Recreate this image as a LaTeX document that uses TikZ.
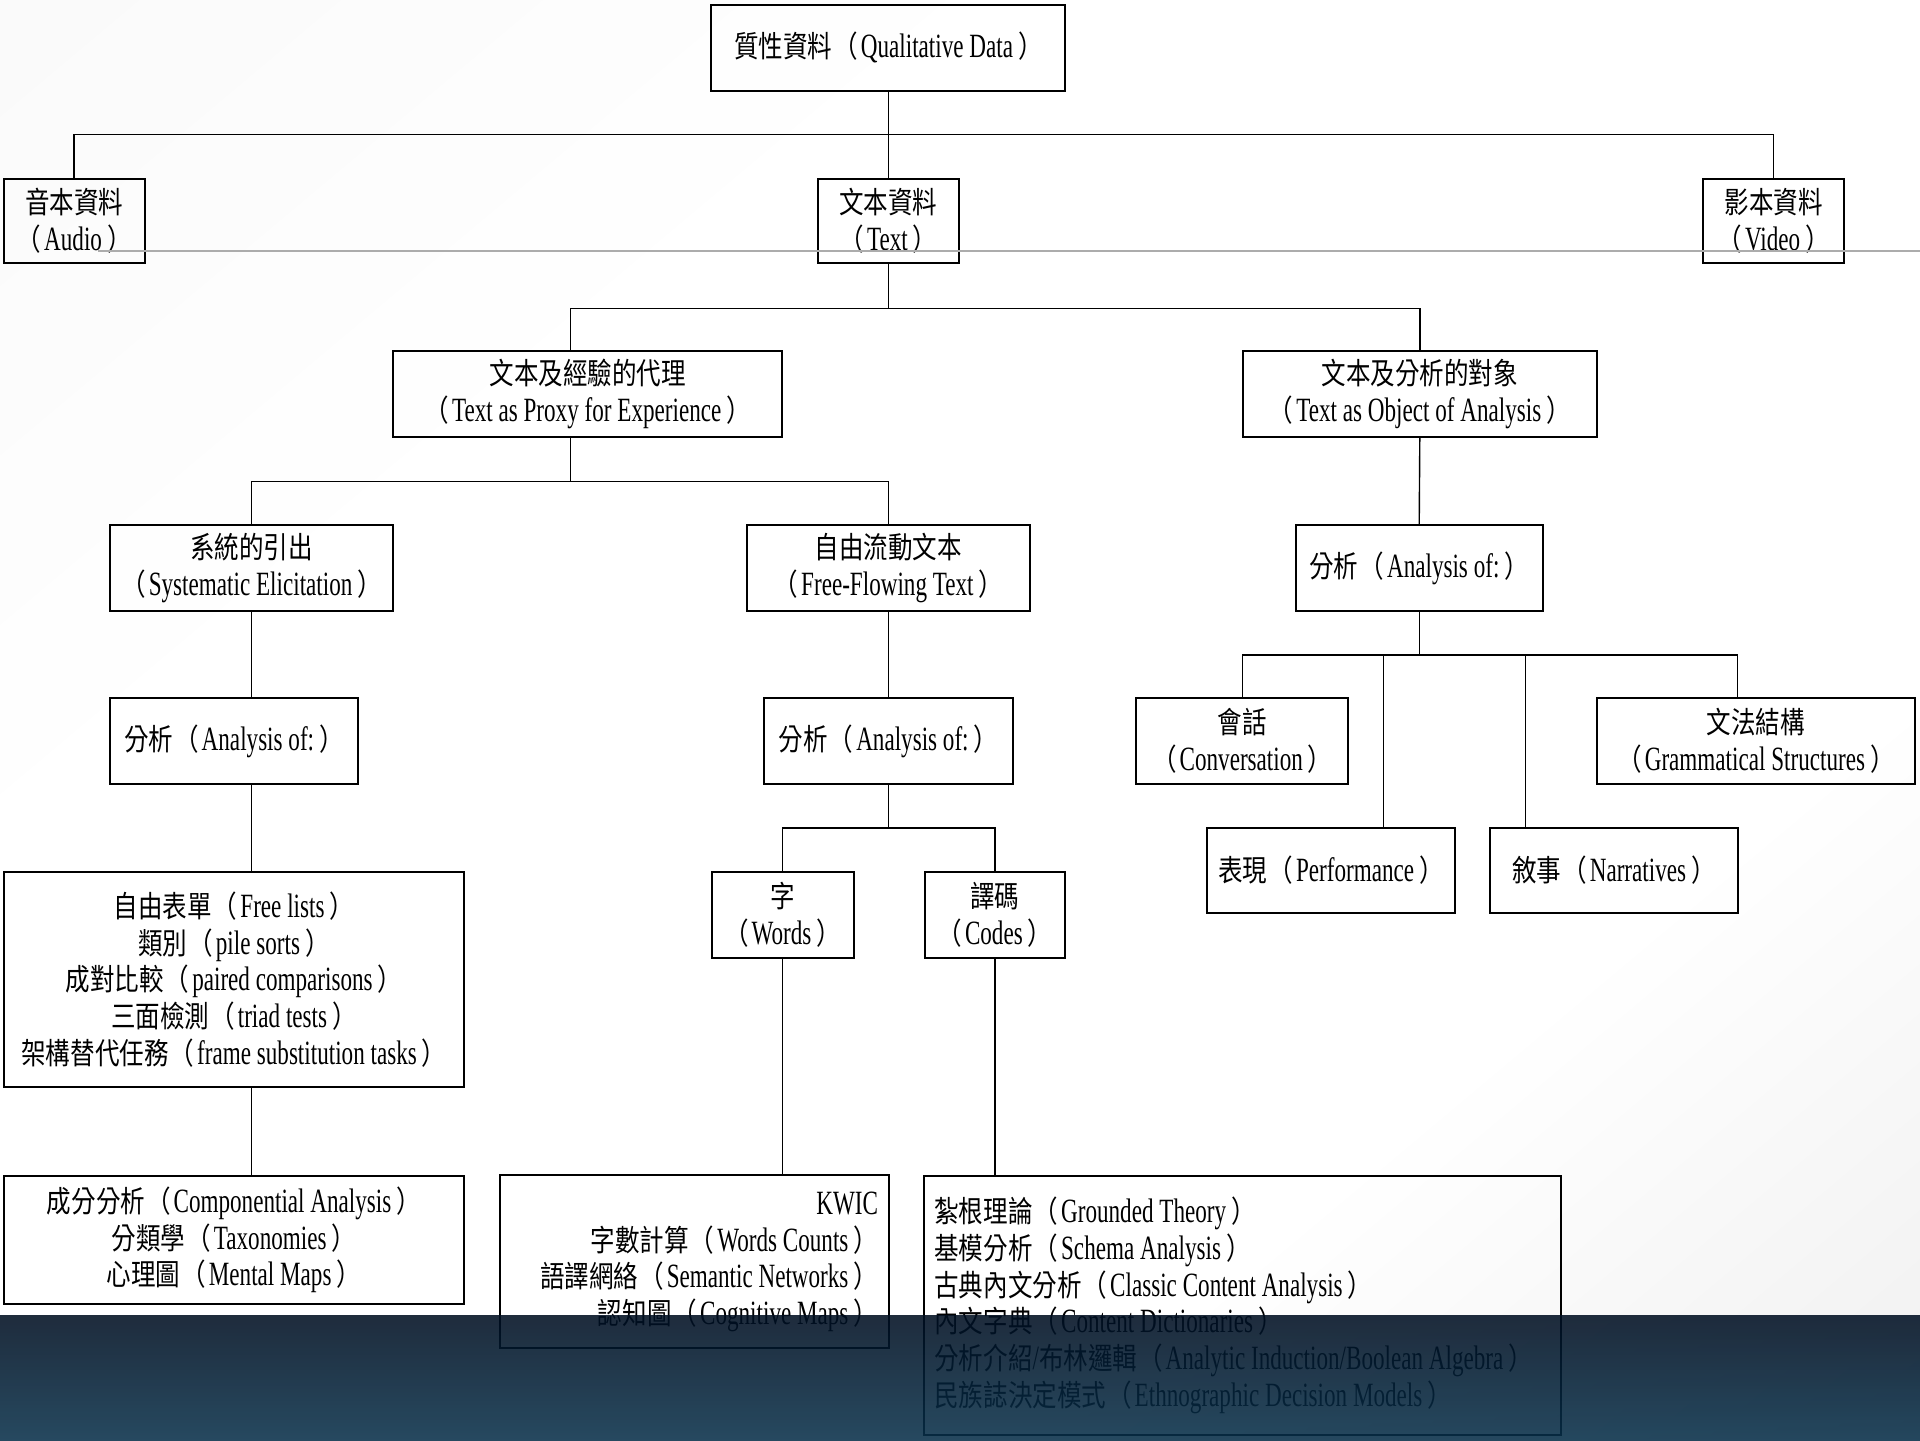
\documentclass[tikz,border=0pt]{standalone}
\usepackage{fontspec}
\setmainfont{Liberation Serif}[FakeStretch=0.68]
\newfontfamily\cjk{Noto Sans CJK TC}[Scale=0.88,FakeStretch=0.82]
% switch to the CJK face for Han characters and full-width brackets
\XeTeXinterchartokenstate=1
\newXeTeXintercharclass\cjkclass
\newXeTeXintercharclass\openclass
\newXeTeXintercharclass\closeclass
\newcount\cjkcode
\cjkcode="3000
\loop
  \XeTeXcharclass\cjkcode=\cjkclass
  \ifnum\cjkcode<"9FFF \advance\cjkcode by 1
\repeat
\XeTeXcharclass"FF08=\openclass
\XeTeXcharclass"FF09=\closeclass
\XeTeXinterchartoks 0 \cjkclass={\cjk}
\XeTeXinterchartoks 4095 \cjkclass={\cjk}
\XeTeXinterchartoks \cjkclass 0={\rmfamily}
\XeTeXinterchartoks 4095 0={\rmfamily}
\XeTeXinterchartoks \cjkclass \openclass={\kern0.5pt}
\XeTeXinterchartoks 0 \openclass={\cjk\kern0.5pt}
\XeTeXinterchartoks 4095 \openclass={\cjk}
\XeTeXinterchartoks \openclass 0={\kern1.5pt\rmfamily}
\XeTeXinterchartoks 0 \closeclass={\kern2.5pt\cjk}
\XeTeXinterchartoks 4095 \closeclass={\cjk}
\XeTeXinterchartoks \closeclass 0={\rmfamily}
\definecolor{bandtop}{RGB}{0,15,34}
\definecolor{bandbot}{RGB}{8,48,74}
\definecolor{rulegray}{RGB}{172,172,172}
\pgfdeclarehorizontalshading{slidebg}{100bp}{color(0bp)=(gray!7); color(35bp)=(white); color(68bp)=(white); color(100bp)=(gray!22)}
\begin{document}
\begin{tikzpicture}[x=0.5pt,y=-0.5pt,
    box/.style={draw,line width=1pt,inner sep=0pt,align=center,
      font={\fontsize{17}{18.4}\selectfont}},
    link/.style={draw,line width=0.7pt}]
    \useasboundingbox (0,0) rectangle (1920,1440);
    \shade[shading=slidebg,shading angle=-50] (0,0) rectangle (1920,1440);
    % boxes
    \node[box,minimum width=177pt,minimum height=42.85pt] (qual) at (888.4,47.7) {質性資料（Qualitative Data）};
    \node[box,minimum width=70.4pt,minimum height=42.25pt] (audio) at (74.1,221) {音本資料\\（Audio）};
    \node[box,minimum width=70.4pt,minimum height=42.25pt] (txt) at (888.4,221) {文本資料\\（Text）};
    \node[box,minimum width=70.4pt,minimum height=42.25pt] (video) at (1773.7,221) {影本資料\\（Video）};
    \node[box,minimum width=194.7pt,minimum height=42.85pt] (proxy) at (587.7,394.3) {文本及經驗的代理\\（Text as Proxy for Experience）};
    \node[box,minimum width=176.9pt,minimum height=42.85pt] (object) at (1419.8,394.3) {文本及分析的對象\\（Text as Object of Analysis）};
    \node[box,minimum width=141.4pt,minimum height=42.85pt] (syst) at (251.6,568.2) {系統的引出\\（Systematic Elicitation）};
    \node[box,minimum width=141.4pt,minimum height=42.85pt] (flow) at (888.4,568.2) {自由流動文本\\（Free-Flowing Text）};
    \node[box,minimum width=123.7pt,minimum height=42.85pt] (anobj) at (1419.2,568.2) {分析（Analysis of:）};
    \node[box,minimum width=123.7pt,minimum height=42.85pt] (ansys) at (233.9,740.9) {分析（Analysis of:）};
    \node[box,minimum width=124.3pt,minimum height=42.85pt] (anflow) at (888.4,740.9) {分析（Analysis of:）};
    \node[box,minimum width=106pt,minimum height=42.85pt] (conv) at (1242.3,740.9) {會話\\（Conversation）};
    \node[box,minimum width=159.2pt,minimum height=42.85pt] (gram) at (1755.9,740.9) {文法結構\\（Grammatical Structures）};
    \node[box,minimum width=123.7pt,minimum height=42.85pt] (perf) at (1331,870.6) {表現（Performance）};
    \node[box,minimum width=123.7pt,minimum height=42.85pt] (narr) at (1613.9,870.6) {敘事（Narratives）};
    \node[box,minimum width=71pt,minimum height=42.85pt] (words) at (782.5,914.7) {字\\（Words）};
    \node[box,minimum width=70.4pt,minimum height=42.85pt] (codes) at (994.9,914.7) {譯碼\\（Codes）};
    \node[box,minimum width=230.2pt,minimum height=107.8pt] (lists) at (233.9,979.6) {自由表單（Free lists）\\類別（pile sorts）\\成對比較（paired comparisons）\\三面檢測（triad tests）\\架構替代任務（frame substitution tasks）};
    \node[box,minimum width=230.2pt,minimum height=64.3pt] (comp) at (233.9,1239.8) {成分分析（Componential Analysis）\\分類學（Taxonomies）\\心理圖（Mental Maps）};
    \node[box,align=flush right,text width=183.7pt,inner xsep=5.5pt,minimum height=86.35pt] (kwic) at (694.3,1261.8) {KWIC\\字數計算（Words Counts）\\語譯網絡（Semantic Networks）\\認知圖（Cognitive Maps）};
    \node[box,align=flush left,text width=308.35pt,inner xsep=5pt,minimum height=129.8pt] (ground) at (1242.8,1305.3) {紮根理論（Grounded Theory）\\基模分析（Schema Analysis）\\古典內文分析（Classic Content Analysis）\\內文字典（Content Dictionaries）\\分析介紹/布林邏輯（Analytic Induction/Boolean Algebra）\\民族誌決定模式（Ethnographic Decision Models）};
    % bus points
    \coordinate (b1) at (888.4,134.7);
    \coordinate (b2) at (888.4,308.6);
    \coordinate (d2) at (570.6,308.6);
    \coordinate (d3) at (570.6,481.2);
    \coordinate (d4a) at (1383.7,655.1);
    \coordinate (d4b) at (1525.7,655.1);
    \coordinate (d4c) at (1737.6,655.1);
    \coordinate (b6) at (888.4,827.8);
    % connectors
    \draw[link] (qual.south) -- (txt.north);
    \draw[link] (audio.north) |- (b1) -| (video.north);
    \draw[link] (txt.south) -- (b2);
    \draw[link] (d2 |- proxy.north) -- (d2) -| (object.north);
    \draw[link] (d3 |- proxy.south) -- (d3);
    \draw[link] (syst.north) |- (d3) -| (flow.north);
    \draw[link] (object.south) -- (anobj.north);
    \draw[link] (syst.south) -- (syst.south |- ansys.north);
    \draw[link] (flow.south) -- (anflow.north);
    \draw[link] (anobj.south) -- (anobj.south |- d4a);
    \draw[link] (conv.north) |- (d4c) -- (d4c |- gram.north);
    \draw[link] (d4a) -- (d4a |- perf.north);
    \draw[link] (d4b) -- (d4b |- narr.north);
    \draw[link] (ansys.south -| syst.south) -- (lists.north -| syst.south);
    \draw[link] (anflow.south) -- (b6);
    \draw[link] (words.north) |- (b6) -| (codes.north);
    \draw[link] (lists.south -| syst.south) -- (comp.north -| syst.south);
    \draw[link] (words.south) -- (words.south |- kwic.north);
    \draw[link] (codes.south) -- (codes.south |- ground.north);
    % slide rule and footer band
    \draw[rulegray,line width=1.1pt] (98,251) -- (1920,251);
    \shade[top color=bandtop,bottom color=bandbot,opacity=0.88] (0,1315) rectangle (1920,1440);
\end{tikzpicture}
\end{document}
